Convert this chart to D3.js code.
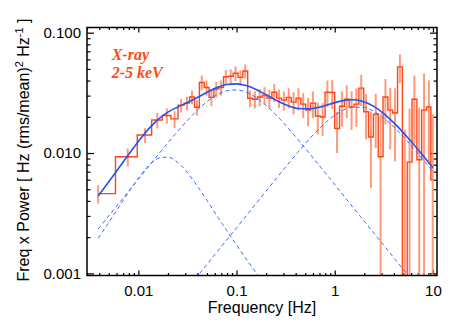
<!DOCTYPE html>
<html>
<head>
<meta charset="utf-8">
<script src="https://cdnjs.cloudflare.com/ajax/libs/d3/7.8.5/d3.min.js"></script>
<style>
  body { margin: 0; background: #fff; }
  svg { display: block; }
  .axis text { font-family: "Liberation Sans", Arial, Helvetica, sans-serif; font-size: 15px; fill: #000; }
  .axis line { stroke: #000; stroke-width: 1.2px; }
  .axis path { display: none; }
</style>
</head>
<body>
<svg id="chart" width="463" height="331"></svg>
<script>
// observed power spectrum (freq x power), histogram bins
const freqHz = [0.0039,0.0078,0.0117,0.0156,0.0195,0.0234,0.0273,0.0313,0.0352,0.0395,
  0.0442,0.0495,0.0555,0.0621,0.0696,0.0779,0.0873,0.0977,0.1095,0.1226,
  0.1373,0.1538,0.1722,0.1929,0.2161,0.2420,0.2710,0.3036,0.3400,0.3808,
  0.4265,0.4777,0.5350,0.5992,0.6711,0.7517,0.8419,0.9429,1.056,1.183,
  1.325,1.484,1.662,1.861,2.085,2.335,2.615,2.929,3.281,3.674,
  4.115,4.609,5.162,5.782,6.475,7.252,8.123,9.097,9.95];
const power = [0.0046,0.0093,0.0141,0.0188,0.0205,0.0192,0.0250,0.0260,0.0292,0.0240,
  0.0385,0.0350,0.0290,0.0340,0.0350,0.0430,0.0435,0.0460,0.0425,0.0480,
  0.0285,0.0280,0.0292,0.0303,0.0286,0.0320,0.0286,0.0275,0.0290,0.0265,
  0.0286,0.0255,0.0227,0.0260,0.0203,0.0199,0.0320,0.0318,0.0160,0.0245,
  0.0280,0.0241,0.0255,0.0346,0.0220,0.0136,0.0210,0.0093,0.0292,0.0227,
  0.0215,0.0520,0.0006,0.0084,0.0280,0.0088,0.0227,0.0241,0.0060];
const powerErr = [0.0008,0.0016,0.0020,0.0028,0.0030,0.0030,0.0033,0.0034,0.0038,0.0035,
  0.0055,0.0050,0.0045,0.0050,0.0050,0.0060,0.0060,0.0065,0.0060,0.0065,
  0.0045,0.0045,0.0048,0.0050,0.0050,0.0055,0.0050,0.0050,0.0055,0.0055,
  0.0060,0.0060,0.0060,0.0065,0.0060,0.0060,0.0080,0.0085,0.0060,0.0080,
  0.0085,0.0085,0.0090,0.0100,0.0090,0.0085,0.0100,0.0120,0.0120,0.0120,
  0.0130,0.0140,0.0150,0.0150,0.0160,0.0150,0.0230,0.0160,0.0150];

// model components
const modelFreq = [0.0039,0.0055,0.0075,0.010,0.013,0.0165,0.02,0.025,0.032,0.04,0.05,
  0.065,0.08,0.1,0.125,0.16,0.2,0.26,0.33,0.42,0.55,0.7,0.9,1.15,1.5,1.9,2.5,3.2,4.2,5.5,7,8.5,10];
const compLow = [0.00196,0.00298,0.00439,0.00617,0.00797,0.00912,0.00925,0.00841,0.00679,0.00529,0.00403,
  0.0029,0.00225,0.00172,0.00132,0.000996,0.000776,0.000582,0.000451,0.000349,0.000263,0.000205,0.000159,
  0.000123,0.0000942,0.0000741,0.0000562,0.0000435,0.0000332,0.0000253,0.0000199,0.0000164,0.0000139];
const compMid = [0.00234,0.00331,0.00453,0.00606,0.0079,0.01003,0.01213,0.01504,0.01885,0.02273,0.02672,
  0.03083,0.03292,0.03345,0.03205,0.02874,0.0249,0.02023,0.01635,0.0130,0.00997,0.00783,0.00608,
  0.00474,0.00362,0.00285,0.00216,0.00169,0.00128,0.000977,0.000767,0.000631,0.000536];
const compHigh = [0.0000917,0.000129,0.000176,0.000235,0.000306,0.000389,0.000472,0.00059,0.000756,0.000947,0.00119,
  0.00155,0.00191,0.00239,0.0030,0.00385,0.00483,0.0063,0.00799,0.01012,0.01303,0.01603,0.01931,
  0.02212,0.02397,0.02402,0.02218,0.01935,0.01581,0.0125,0.00996,0.00823,0.0070];

const xTickValues = [0.01, 0.1, 1, 10];
const xTickLabels = ['0.01', '0.1', '1', '10'];
const yTickValues = [0.001, 0.01, 0.1];
const yTickLabels = ['0.001', '0.010', '0.100'];

const width = 463, height = 331;
const margin = {left: 87, right: 26, top: 27.5, bottom: 55.5};
const plotW = width - margin.left - margin.right;
const plotH = height - margin.top - margin.bottom;

const svg = d3.select('#chart');
const g = svg.append('g').attr('transform', `translate(${margin.left},${margin.top})`);

const x = d3.scaleLog().domain([0.003, 11]).range([0, plotW]);
const y = d3.scaleLog().domain([0.00096, 0.1104]).range([plotH, 0]);

const isDecade = v => Math.abs(Math.log10(v) - Math.round(Math.log10(v))) < 1e-6;
const minorX = x.ticks().filter(v => !isDecade(v));
const minorY = y.ticks().filter(v => !isDecade(v));

svg.append('defs').append('clipPath').attr('id', 'plotclip')
  .append('rect').attr('width', plotW).attr('height', plotH);

// axes: ticks on all four sides, pointing inwards
function addAxis(axis, transform) {
  g.append('g').attr('class', 'axis').attr('transform', transform).call(axis);
}
addAxis(d3.axisBottom(x).tickValues(xTickValues).tickSize(-5).tickPadding(10)
  .tickFormat((d, i) => xTickLabels[i]), `translate(0,${plotH})`);
addAxis(d3.axisBottom(x).tickValues(minorX).tickSize(-2.5).tickFormat(''), `translate(0,${plotH})`);
addAxis(d3.axisTop(x).tickValues(xTickValues).tickSize(-5).tickFormat(''), 'translate(0,0)');
addAxis(d3.axisTop(x).tickValues(minorX).tickSize(-2.5).tickFormat(''), 'translate(0,0)');
addAxis(d3.axisLeft(y).tickValues(yTickValues).tickSize(-7).tickPadding(6)
  .tickFormat((d, i) => yTickLabels[i]), 'translate(0,0)');
addAxis(d3.axisLeft(y).tickValues(minorY).tickSize(-3.5).tickFormat(''), 'translate(0,0)');
addAxis(d3.axisRight(y).tickValues(yTickValues).tickSize(-7).tickFormat(''), `translate(${plotW},0)`);
addAxis(d3.axisRight(y).tickValues(minorY).tickSize(-3.5).tickFormat(''), `translate(${plotW},0)`);

const plot = g.append('g').attr('clip-path', 'url(#plotclip)');

// error bars
plot.selectAll('line.err').data(freqHz).enter().append('line')
  .attr('class', 'err')
  .attr('x1', d => x(d)).attr('x2', d => x(d))
  .attr('y1', (d, i) => y(Math.max(power[i] - powerErr[i], 1e-6)))
  .attr('y2', (d, i) => y(power[i] + powerErr[i]))
  .style('stroke', '#ff8a66').style('stroke-width', '2px').style('opacity', 0.85);

// histogram steps, edges half way between neighbouring frequencies
let stepPts = [];
for (let i = 0; i < freqHz.length; i++) {
  let left = i === 0 ? freqHz[0] : (freqHz[i - 1] + freqHz[i]) / 2;
  let right = i === freqHz.length - 1 ? freqHz[i] : (freqHz[i] + freqHz[i + 1]) / 2;
  stepPts.push([left, power[i]], [right, power[i]]);
}
plot.append('path').datum(stepPts)
  .attr('d', d3.line().x(d => x(d[0])).y(d => y(d[1])))
  .style('fill', 'none').style('stroke', '#ff4514').style('stroke-width', '1.4px');

// model
const modelLine = d3.line().x(d => x(d[0])).y(d => y(d[1])).curve(d3.curveMonotoneX);
[compLow, compMid, compHigh].forEach(comp => {
  plot.append('path').datum(modelFreq.map((f, i) => [f, comp[i]]))
    .attr('d', modelLine)
    .style('fill', 'none').style('stroke', '#3a6cff').style('stroke-width', '1px')
    .style('stroke-dasharray', '4,3');
});
const total = modelFreq.map((f, i) => [f, compLow[i] + compMid[i] + compHigh[i]]);
plot.append('path').datum(total).attr('d', modelLine)
  .style('fill', 'none').style('stroke', '#1f55f0').style('stroke-width', '1.6px');

// frame
g.append('rect').attr('width', plotW).attr('height', plotH)
  .style('fill', 'none').style('stroke', '#000').style('stroke-width', '1.5px');

// band label, one text per line
const bandLines = ['X-ray', '2-5 keV'];
g.selectAll('text.band').data(bandLines).enter().append('text')
  .attr('class', 'band')
  .attr('x', 24.7).attr('y', (d, i) => 32.5 + i * 17.5)
  .style('font-family', '"Liberation Serif", "Times New Roman", serif')
  .style('font-size', '16px').style('font-weight', 'bold').style('font-style', 'italic')
  .style('fill', '#ff4a1a')
  .text(d => d);

// axis titles
const titleFont = '"Liberation Sans", Arial, Helvetica, sans-serif';
svg.append('text').attr('x', 262).attr('y', 313).attr('text-anchor', 'middle')
  .style('font-family', titleFont).style('font-size', '16px').text('Frequency [Hz]');

const yt = svg.append('text').attr('transform', 'translate(28.5,150) rotate(-90)')
  .attr('text-anchor', 'middle')
  .style('font-family', titleFont).style('font-size', '16px');
yt.append('tspan').text('Freq x Power [ Hz (rms/mean)');
yt.append('tspan').attr('dy', -6).style('font-size', '11px').text('2');
yt.append('tspan').attr('dy', 6).text(' Hz');
yt.append('tspan').attr('dy', -6).style('font-size', '11px').text('-1');
yt.append('tspan').attr('dy', 6).text(' ]');
</script>
</body>
</html>
